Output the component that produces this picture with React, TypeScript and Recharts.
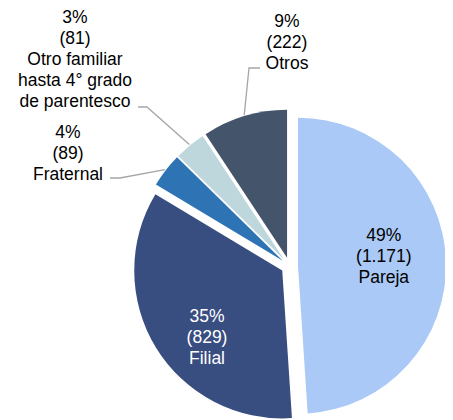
import React from 'react';
import { PieChart, Pie, Cell, Sector } from 'recharts';

// ---- data ----
const categories = [
  'Pareja',
  'Filial',
  'Fraternal',
  'Otro familiar hasta 4° grado de parentesco',
  'Otros',
];
const categoryLabelLines = [
  ['Pareja'],
  ['Filial'],
  ['Fraternal'],
  ['Otro familiar', 'hasta 4° grado', 'de parentesco'],
  ['Otros'],
];
const counts = [1171, 829, 89, 81, 222];

// ---- styles ----
const colors = ['#aac9f6', '#384d80', '#2e74b5', '#bdd7dd', '#44546a'];
const textColors = ['#000000', '#ffffff', '#000000', '#000000', '#000000'];
const FONT = 'Arial, "Liberation Sans", sans-serif';
const FONT_SIZE = 17.5;
const LINE_H = 21;
const EXPLODE = 8.5;
const RADIAN = Math.PI / 180;
const LEADER_COLOR = '#a6a6a6';

// label layout (offsets relative to the pie centre)
const labelLayout: any[] = [
  { kind: 'inside', rf: 0.58, dx: 0, dy: -7 },
  { kind: 'inside', rf: 0.6, dx: 0.6, dy: 20 },
  { kind: 'outside', tx: -221.5, ty: -113, elbow: [-169.5, -88], end: [-179.5, -88] },
  { kind: 'outside', tx: -214.5, ty: -207.5, elbow: [-142.5, -159], end: [-151.5, -159] },
  { kind: 'outside', tx: -2.5, ty: -224, elbow: [-40.5, -198], end: [-29.5, -198] },
];

const data = categories.map((name, i) => ({
  name,
  value: counts[i],
  lines: categoryLabelLines[i],
}));

const fmt = (v: number) => String(v).replace(/\B(?=(\d{3})+(?!\d))/g, '.');

const ExplodedSector = (props: any) => {
  const { cx, cy, midAngle } = props;
  const ox = EXPLODE * Math.cos(-midAngle * RADIAN);
  const oy = EXPLODE * Math.sin(-midAngle * RADIAN);
  return <Sector {...props} cx={cx + ox} cy={cy + oy} />;
};

const renderLabel = (props: any) => {
  const { cx, cy, midAngle, outerRadius, percent, value, index } = props;
  const L = labelLayout[index];
  const cos = Math.cos(-midAngle * RADIAN);
  const sin = Math.sin(-midAngle * RADIAN);
  const lines = [`${Math.round(percent * 100)}%`, `(${fmt(value)})`, ...data[index].lines];
  let x: number;
  let y: number;
  let leader: any = null;
  if (L.kind === 'inside') {
    const r = EXPLODE + L.rf * outerRadius;
    x = cx + r * cos + L.dx;
    y = cy + r * sin + L.dy;
  } else {
    x = cx + L.tx;
    y = cy + L.ty;
    const r0 = outerRadius + EXPLODE + 1;
    const pts = [
      [cx + r0 * cos, cy + r0 * sin],
      [cx + L.elbow[0], cy + L.elbow[1]],
      [cx + L.end[0], cy + L.end[1]],
    ];
    leader = (
      <polyline
        points={pts.map((p) => p.join(',')).join(' ')}
        fill="none"
        stroke={LEADER_COLOR}
        strokeWidth={1.3}
      />
    );
  }
  const n = lines.length;
  const y0 = y - ((n - 1) / 2) * LINE_H;
  return (
    <g>
      {leader}
      {lines.map((t, i) => (
        <text
          key={i}
          x={x}
          y={y0 + i * LINE_H}
          textAnchor="middle"
          dominantBaseline="central"
          fill={textColors[index]}
          fontFamily={FONT}
          fontSize={FONT_SIZE}
        >
          {t}
        </text>
      ))}
    </g>
  );
};

export default function App() {
  return (
    <div style={{ width: 445, height: 412, fontFamily: FONT }}>
      <PieChart width={445} height={412} margin={{ top: 0, right: 0, bottom: 0, left: 0 }}>
        <Pie
          data={data}
          dataKey="value"
          nameKey="name"
          cx={281.5}
          cy={258}
          outerRadius={148}
          startAngle={90}
          endAngle={-270}
          stroke="none"
          isAnimationActive={false}
          labelLine={false}
          label={renderLabel}
          shape={ExplodedSector}
        >
          {data.map((d, i) => (
            <Cell key={d.name} fill={colors[i]} />
          ))}
        </Pie>
      </PieChart>
    </div>
  );
}
